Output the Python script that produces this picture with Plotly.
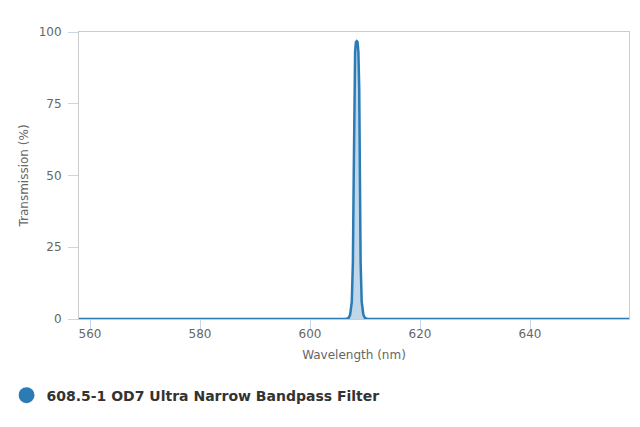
import plotly.graph_objects as go

# transmission curve
wavelength = [558.0, 606.5, 607.0, 607.3, 607.6, 607.8, 607.95, 608.05, 608.2, 608.35,
              608.5, 608.65, 608.8, 608.95, 609.05, 609.2, 609.4, 609.7, 610.0, 610.5, 658.0]
transmission = [0.0, 0.0, 0.3, 1.5, 6.0, 20.0, 50.0, 80.0, 93.0, 96.5,
                96.8, 96.5, 93.0, 80.0, 50.0, 20.0, 6.0, 1.5, 0.3, 0.0, 0.0]

series_name = "608.5-1 OD7 Ultra Narrow Bandpass Filter"
x_ticks = [560, 580, 600, 620, 640]
y_ticks = [0, 25, 50, 75, 100]

line_color = "#2b7bb6"
text_font = "'DejaVu Sans', Verdana, sans-serif"

fig = go.Figure()
fig.add_trace(go.Scatter(
    x=wavelength, y=transmission, mode="lines",
    line=dict(color=line_color, width=2.5),
    fill="tozeroy", fillcolor="rgba(43,123,182,0.3)",
    showlegend=False, hoverinfo="x+y",
))
# legend entry only
fig.add_trace(go.Scatter(
    x=[None], y=[None], mode="markers", name=series_name,
    marker=dict(color=line_color, size=16, symbol="circle"),
))

# the page body adds an 8px offset, so the figure is 8px smaller
fig.update_layout(
    width=632, height=419,
    margin=dict(l=71, r=11, t=24, b=108),
    paper_bgcolor="white", plot_bgcolor="white",
    font=dict(family=text_font, color="#666666", size=12),
    showlegend=True,
    legend=dict(
        orientation="h", x=-0.11, y=-0.211, xanchor="left", yanchor="top",
        itemsizing="trace", indentation=-12,
        font=dict(family=text_font, size=14.0, color="#333333", weight="bold"),
    ),
    xaxis=dict(
        range=[558, 658], tickvals=x_ticks, showgrid=False, zeroline=False,
        ticks="outside", ticklen=9, tickcolor="#ccd6eb", ticklabelstandoff=-5,
        showline=True, linecolor="#cccccc", mirror=True,
        title=dict(text="Wavelength (nm)", font=dict(size=12, color="#666666"), standoff=10),
    ),
    yaxis=dict(
        range=[0, 100], tickvals=y_ticks, showgrid=False, zeroline=False,
        ticks="outside", ticklen=10, tickcolor="#ccd6eb", ticklabelstandoff=4,
        showline=True, linecolor="#cccccc", mirror=True,
        title=dict(text="Transmission (%)", font=dict(size=12, color="#666666"), standoff=7),
    ),
)

fig.write_html("out.html")
